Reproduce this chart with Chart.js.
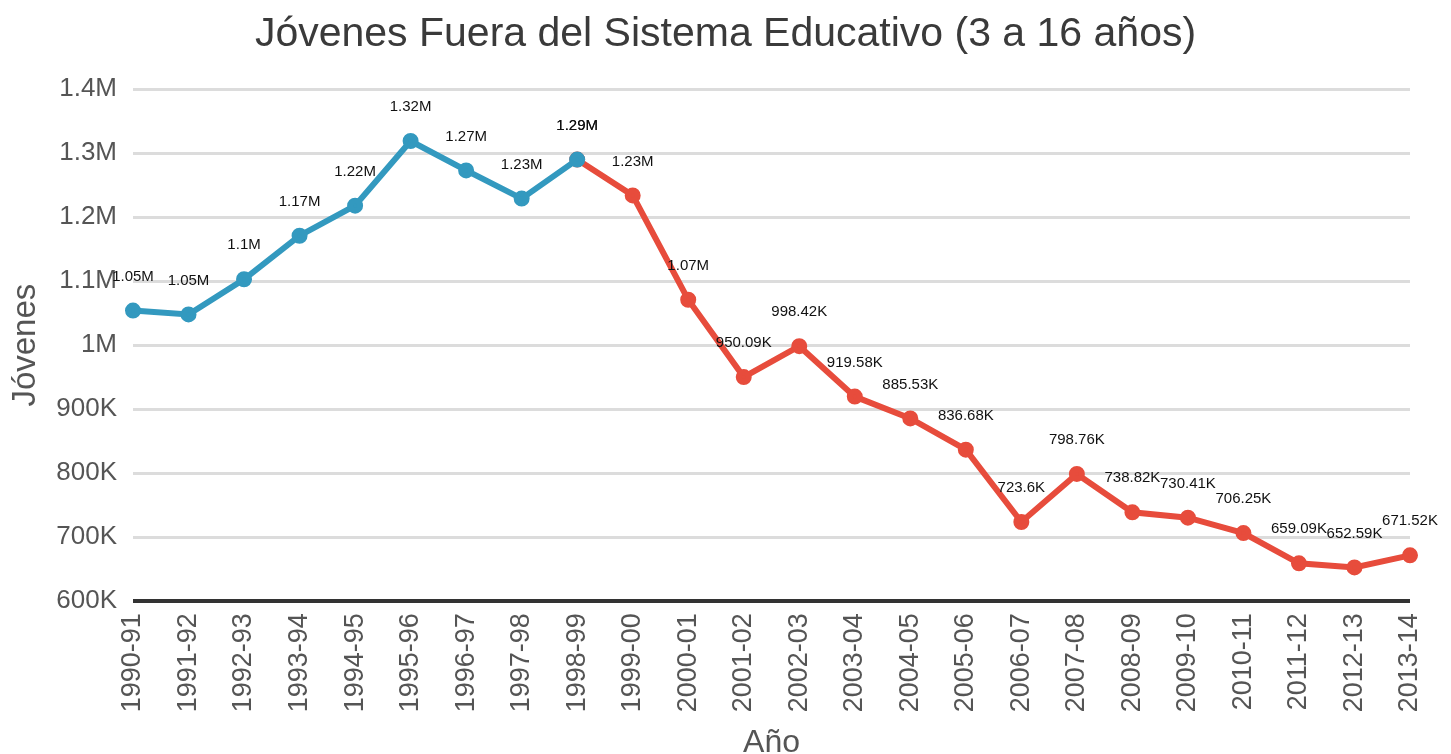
<!DOCTYPE html>
<html>
<head>
<meta charset="utf-8">
<script src="https://cdn.jsdelivr.net/npm/chart.js@4"></script>
<style>
  html, body { margin: 0; padding: 0; background: #fff; }
  #wrap { width: 1451px; height: 754px; position: relative; }
</style>
</head>
<body>
<div id="wrap"><canvas id="chart"></canvas></div>
<script>
const years = ['1990-91', '1991-92', '1992-93', '1993-94', '1994-95', '1995-96', '1996-97', '1997-98',
  '1998-99', '1999-00', '2000-01', '2001-02', '2002-03', '2003-04', '2004-05', '2005-06', '2006-07',
  '2007-08', '2008-09', '2009-10', '2010-11', '2011-12', '2012-13', '2013-14'];

// primer tramo (hasta 1998-99) en azul
const tramoAzul = [1054000, 1048000, 1103000, 1171000, 1218000, 1319000, 1273000, 1229000, 1290000,
  null, null, null, null, null, null, null, null, null, null, null, null, null, null, null];

// segundo tramo (desde 1998-99) en rojo
const tramoRojo = [null, null, null, null, null, null, null, null, 1290000,
  1234000, 1071000, 950090, 998420, 919580, 885530, 836680, 723600, 798760, 738820, 730410, 706250,
  659090, 652590, 671520];

const yTicks = [600000, 700000, 800000, 900000, 1000000, 1100000, 1200000, 1300000, 1400000];

function formatoCorto(v) {
  if (v >= 1000000) return (Math.round(v / 10000) / 100) + 'M';
  return (Math.round(v / 10) / 100) + 'K';
}

const fuente = '"Liberation Sans", Arial, sans-serif';

// etiquetas de valor encima de cada punto
const etiquetas = {
  id: 'etiquetas',
  afterDatasetsDraw(chart) {
    const ctx = chart.ctx;
    ctx.save();
    ctx.font = '15px ' + fuente;
    ctx.fillStyle = '#111';
    ctx.textAlign = 'center';
    ctx.textBaseline = 'middle';
    chart.data.datasets.forEach((ds, i) => {
      chart.getDatasetMeta(i).data.forEach((pt, j) => {
        const v = ds.data[j];
        if (v == null) return;
        ctx.fillText(formatoCorto(v), pt.x, pt.y - 34);
      });
    });
    ctx.restore();
  }
};

new Chart(document.getElementById('chart'), {
  type: 'line',
  data: {
    labels: years,
    datasets: [
      {
        data: tramoAzul,
        borderColor: '#3399bf',
        backgroundColor: '#3399bf',
        borderWidth: 6,
        pointRadius: 5,
        pointHoverRadius: 5
      },
      {
        data: tramoRojo,
        borderColor: '#e74c3c',
        backgroundColor: '#e74c3c',
        borderWidth: 6,
        pointRadius: 5,
        pointHoverRadius: 5
      }
    ]
  },
  options: {
    responsive: true,
    maintainAspectRatio: false,
    animation: false,
    layout: { padding: 0 },
    plugins: {
      legend: { display: false },
      tooltip: { enabled: false },
      title: {
        display: true,
        text: 'Jóvenes Fuera del Sistema Educativo (3 a 16 años)',
        color: '#3a3a3a',
        font: { family: fuente, size: 41, weight: 'normal' },
        padding: { top: 10, bottom: 30 }
      }
    },
    scales: {
      x: {
        offset: false,
        grid: { display: false, drawTicks: false },
        border: { display: false },
        // margen derecho fijo; el primer rótulo puede invadir el eje Y
        afterFit(s) {
          s.paddingLeft = 0;
          s.paddingRight = 41;
        },
        ticks: {
          color: '#555',
          font: { family: fuente, size: 27 },
          minRotation: 90,
          maxRotation: 90,
          padding: 12
        },
        title: {
          display: true,
          text: 'Año',
          color: '#555',
          font: { family: fuente, size: 32, lineHeight: 0.65 },
          padding: { top: 9, bottom: 0 }
        }
      },
      y: {
        min: 600000,
        max: 1400000,
        afterBuildTicks(axis) {
          axis.ticks = yTicks.map(v => ({ value: v }));
        },
        afterFit(s) {
          s.width = 133;
        },
        border: { display: false },
        grid: {
          drawTicks: false,
          color: c => c.tick && c.tick.value === 600000 ? '#333' : '#dcdcdc',
          lineWidth: c => c.tick && c.tick.value === 600000 ? 4 : 3
        },
        ticks: {
          color: '#555',
          font: { family: fuente, size: 26 },
          padding: 16,
          callback: v => v >= 1000000 ? (v / 1000000) + 'M' : (v / 1000) + 'K'
        },
        title: {
          display: true,
          text: 'Jóvenes',
          color: '#555',
          font: { family: fuente, size: 33 },
          padding: { top: 6, bottom: 0 }
        }
      }
    }
  },
  plugins: [etiquetas]
});
</script>
</body>
</html>
